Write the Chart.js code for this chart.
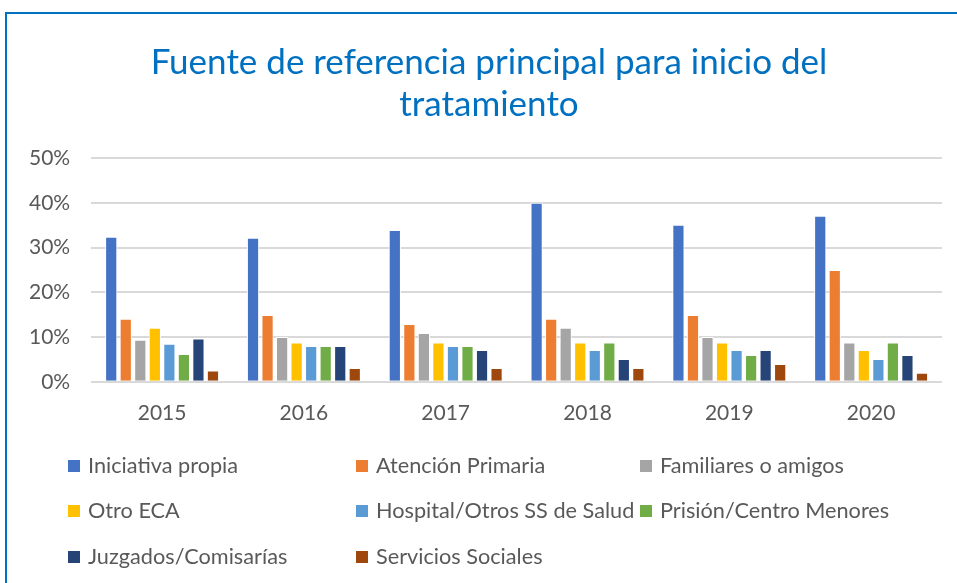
<!DOCTYPE html>
<html>
<head>
<meta charset="utf-8">
<script src="https://cdn.jsdelivr.net/npm/chart.js@4.4.0/dist/chart.umd.min.js"></script>
<style>
  body { margin: 0; background: #fff; font-family: Lato, "Liberation Sans", sans-serif; }
  #wrap { position: relative; width: 957px; height: 583px; overflow: hidden; }
  #frame { position: absolute; left: 5px; top: 12px; width: 990px; height: 620px; border: 2px solid #0070C0; box-sizing: border-box; }
  #chartBox { position: absolute; left: 0; top: 0; width: 957px; height: 460px; }
  #title { position: absolute; left: 289px; width: 400px; top: 39px; text-align: center; color: #0070C0;
           font-size: 35px; line-height: 42px; white-space: nowrap; display: flex; flex-direction: column; align-items: center; }
  #legend { position: absolute; left: 0; top: 0; width: 957px; height: 583px; pointer-events: none; }
  .item { position: absolute; font-size: 21.7px; color: #595959; white-space: nowrap; transform: translateY(-50%); }
  .box { display: inline-block; width: 12px; height: 12px; margin-right: 8px; vertical-align: 1px; }
</style>
</head>
<body>
<div id="wrap">
  <div id="frame"></div>
  <div id="chartBox"><canvas id="chart"></canvas></div>
  <div id="title"><span>Fuente de referencia principal para inicio del</span><span>tratamiento</span></div>
  <div id="legend"></div>
</div>
<script>
// Jahre / Kategorien
const years = ['2015', '2016', '2017', '2018', '2019', '2020'];

// Werte in Prozent, pro Quelle
const iniciativaPropia = [32.4, 32.2, 33.9, 40.0, 35.1, 37.1];
const atencionPrimaria = [14.1, 14.9, 12.9, 14.1, 14.9, 25.0];
const familiares       = [9.4, 10.0, 10.9, 12.1, 10.0, 8.8];
const otroEca          = [12.1, 8.8, 8.8, 8.8, 8.8, 7.1];
const hospital         = [8.5, 8.0, 8.0, 7.1, 7.1, 5.1];
const prision          = [6.2, 8.0, 8.0, 8.8, 6.0, 8.8];
const juzgados         = [9.7, 8.0, 7.1, 5.1, 7.1, 6.0];
const serviciosSoc     = [2.5, 3.1, 3.1, 3.1, 4.0, 2.0];

const seriesLabels = ['Iniciativa propia', 'Atención Primaria', 'Familiares o amigos', 'Otro ECA',
  'Hospital/Otros SS de Salud', 'Prisión/Centro Menores', 'Juzgados/Comisarías', 'Servicios Sociales'];
const seriesData = [iniciativaPropia, atencionPrimaria, familiares, otroEca, hospital, prision, juzgados, serviciosSoc];
const seriesColors = ['#4472C4', '#ED7D31', '#A5A5A5', '#FFC000', '#5B9BD5', '#70AD47', '#264478', '#9E480E'];

const yTicks = [0, 10, 20, 30, 40, 50];

const datasets = seriesLabels.map((label, i) => ({
  label: label,
  data: seriesData[i],
  backgroundColor: seriesColors[i],
  borderColor: '#ffffff',
  borderWidth: 1,
  barPercentage: 0.84,
  categoryPercentage: 0.82
}));

const ctx = document.getElementById('chart').getContext('2d');
new Chart(ctx, {
  type: 'bar',
  data: { labels: years, datasets: datasets },
  options: {
    responsive: true,
    maintainAspectRatio: false,
    animation: false,
    // Titel steht als HTML darüber, daher viel Platz oben
    layout: { padding: { left: 8, right: 15, top: 158, bottom: 15 } },
    scales: {
      x: {
        grid: { display: false, drawTicks: false },
        border: { display: false },
        ticks: { color: '#595959', font: { family: 'Lato', size: 21 }, padding: 19 }
      },
      y: {
        min: 0,
        max: 50,
        afterBuildTicks: axis => { axis.ticks = yTicks.map(v => ({ value: v })); },
        grid: { color: '#d9d9d9', lineWidth: 2, drawTicks: false },
        border: { display: false },
        ticks: { color: '#595959', font: { family: 'Lato', size: 21 }, padding: 21,
          callback: v => v + '%' }
      }
    },
    plugins: {
      legend: { display: false },
      tooltip: { enabled: false }
    }
  }
});

// Legende als HTML-Raster (3 Spalten)
const legendCols = [68, 356, 640];
const legendRows = [465, 510, 556];
const legendEl = document.getElementById('legend');
seriesLabels.forEach((label, i) => {
  const item = document.createElement('div');
  item.className = 'item';
  item.style.left = legendCols[i % 3] + 'px';
  item.style.top = legendRows[Math.floor(i / 3)] + 'px';
  item.innerHTML = `<span class="box" style="background:${seriesColors[i]}"></span>${label}`;
  legendEl.appendChild(item);
});
</script>
</body>
</html>
